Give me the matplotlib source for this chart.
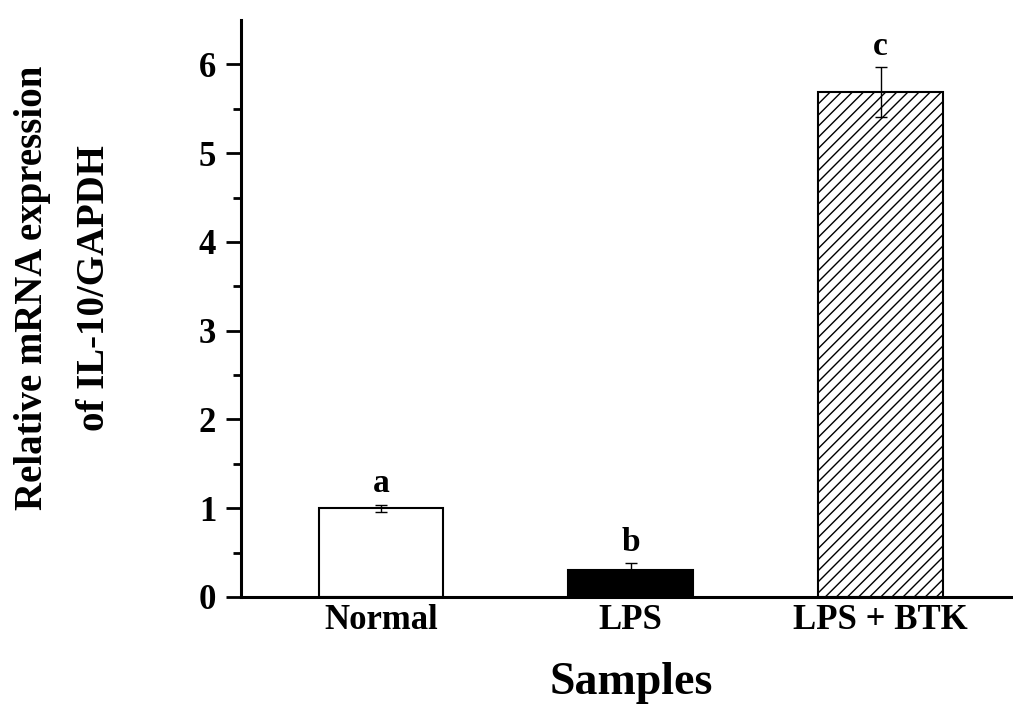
import numpy as np
import matplotlib
matplotlib.use('Agg')
import matplotlib.pyplot as plt

plt.rcParams['font.family'] = 'Liberation Serif'
plt.rcParams['font.weight'] = 'bold'
plt.rcParams['hatch.linewidth'] = 1.0

samples = ['Normal', 'LPS', 'LPS + BTK']
expression = [1.00, 0.30, 5.69]
errors = [0.04, 0.08, 0.28]
letters = ['a', 'b', 'c']
yticks = [0, 1, 2, 3, 4, 5, 6]

fig = plt.figure(figsize=(10.13, 7.04), dpi=100)
ax = fig.add_axes([0.238, 0.152, 0.762, 0.8196])

x = np.arange(1, len(samples) + 1)
fills = ['white', 'black', 'white']
hatches = [None, None, '///']
for i in range(len(samples)):
    ax.bar(x[i], expression[i], width=0.5, color=fills[i], edgecolor='black',
           linewidth=1.5, hatch=hatches[i], zorder=2)
ax.errorbar(x, expression, yerr=errors, fmt='none', ecolor='black',
            elinewidth=1.0, capsize=4, capthick=1.0, zorder=3)
for i in range(len(samples)):
    ax.text(x[i], expression[i] + errors[i] + 0.06, letters[i], ha='center',
            va='bottom', fontsize=24, fontweight='bold')

ax.set_xlim(0.44, 3.53)
ax.set_ylim(0, 6.5)
ax.set_yticks(yticks)
ax.set_yticks(np.arange(0.5, 6.5, 1.0), minor=True)
ax.set_xticks(x)
ax.set_xticklabels(samples)
ax.tick_params(axis='x', length=0, labelsize=25, pad=5)
ax.tick_params(axis='y', which='major', length=11, width=2, labelsize=25, pad=7)
ax.tick_params(axis='y', which='minor', length=6, width=2)
for lab in ax.get_xticklabels() + ax.get_yticklabels():
    lab.set_fontweight('bold')

for s in ['top', 'right']:
    ax.spines[s].set_visible(False)
for s in ['left', 'bottom']:
    ax.spines[s].set_linewidth(2.2)

ax.set_xlabel('Samples', fontsize=33, fontweight='bold')
ax.xaxis.set_label_coords(0.506, -0.113)
ax.set_ylabel('Relative mRNA expression\nof IL-10/GAPDH', fontsize=28,
              fontweight='bold', linespacing=1.9)
ax.yaxis.set_label_coords(-0.166, 0.536)

fig.savefig('out.png', dpi=100)
